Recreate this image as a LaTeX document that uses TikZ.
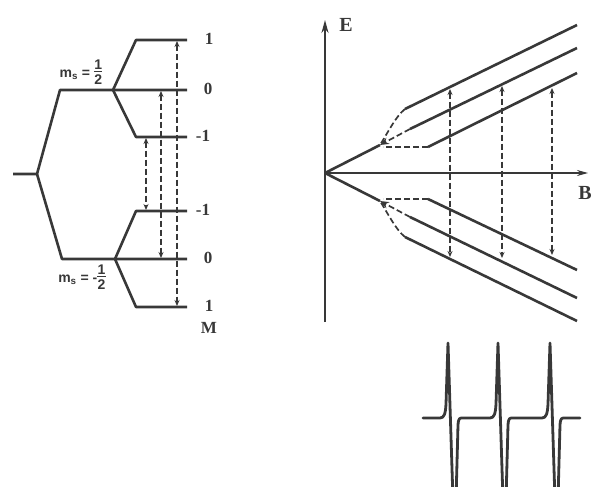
\documentclass[tikz,border=0pt]{standalone}
\usepackage{fontspec}
\setmainfont{Liberation Serif}
\setsansfont{Liberation Sans}
\usetikzlibrary{arrows.meta}
\definecolor{ink}{HTML}{383838}
\newcommand{\myhalf}{\raisebox{-0.45em}{\shortstack{1\\[-1.5pt]\rule{0.6em}{1.1pt}\\[-1pt]2}}}
\tikzset{
  lvl/.style={draw=ink, line width=2.6pt, line join=round},
  dsh/.style={draw=ink, line width=1.7pt, dash pattern=on 6pt off 3pt},
  dbl/.style={dsh, {Stealth[length=6pt,width=5pt]}-{Stealth[length=6pt,width=5pt]}},
  lab/.style={font=\fontsize{17}{19}\selectfont\bfseries, text=ink, inner sep=0pt},
  axlab/.style={font=\fontsize{20}{22}\selectfont\bfseries, text=ink, inner sep=0pt},
  mslab/.style={font=\sffamily\bfseries\fontsize{14}{15}\selectfont, text=ink, inner sep=0pt},
}
\begin{document}
\begin{tikzpicture}[x=1pt,y=-1pt]
\useasboundingbox (0,0) rectangle (592,487);
% ---------------- left level diagram ----------------
\coordinate (s0) at (13,174);
\coordinate (s1) at (37,174);
\coordinate (u0) at (60,90);
\coordinate (u1) at (113,90);
\coordinate (d0) at (62,259);
\coordinate (d1) at (115,259);
\coordinate (a1) at (136,40);  \coordinate (a1e) at (187,40);
\coordinate (a0e) at (187,90);
\coordinate (am) at (136,137); \coordinate (ame) at (187,137);
\coordinate (bm) at (136,211); \coordinate (bme) at (187,211);
\coordinate (b0e) at (187,259);
\coordinate (b1) at (136,307); \coordinate (b1e) at (187,307);
\draw[lvl] (s0) -- (s1) -- (u0) -- (u1) -- (a0e);
\draw[lvl] (s1) -- (d0) -- (d1) -- (b0e);
\draw[lvl] (u1) -- (a1) -- (a1e);
\draw[lvl] (u1) -- (am) -- (ame);
\draw[lvl] (d1) -- (bm) -- (bme);
\draw[lvl] (d1) -- (b1) -- (b1e);
\coordinate (t1) at (177,41);  \coordinate (t1b) at (177,306);
\coordinate (t2) at (161,91);  \coordinate (t2b) at (161,258);
\coordinate (t3) at (146,138); \coordinate (t3b) at (146,210);
\draw[dbl] (t1) -- (t1b);
\draw[dbl] (t2) -- (t2b);
\draw[dbl] (t3) -- (t3b);
\node[lab] (n1) at (209,39) {1};
\node[lab] (n2) at (208,89) {0};
\node[lab] (n3) at (203,136) {-1};
\node[lab] (n4) at (203,210) {-1};
\node[lab] (n5) at (208,258) {0};
\node[lab] (n6) at (209,306) {1};
\node[lab] (nM) at (209,328) {M};
\node[mslab] (msu) at (81,72) {m\textsubscript{s} = \myhalf};
\node[mslab] (msd) at (82,277) {m\textsubscript{s} = -\myhalf};
% ---------------- right Zeeman diagram ----------------
\coordinate (O) at (325,173);
\coordinate (Ybot) at (325,322);
\coordinate (Ytop) at (325,20);
\coordinate (Xend) at (588,173);
\draw[draw=ink, line width=2pt, -{Stealth[length=13pt,width=7pt]}] (Ybot) -- (Ytop);
\draw[draw=ink, line width=1.5pt, -{Stealth[length=11pt,width=6pt]}] (O) -- (Xend);
\node[axlab] (E) at (346,25) {E};
\node[axlab, anchor=east] (B) at (592,193) {B};
% upper
\coordinate (ub) at (380,145);
\coordinate (U1s) at (405,109); \coordinate (U1e) at (577,25);
\coordinate (U2s) at (410,129); \coordinate (U2e) at (577,48);
\coordinate (U3s) at (428,147); \coordinate (U3e) at (577,73);
\draw[lvl] (O) -- (ub);
\draw[dsh] (U1s) .. controls (396,116) and (387,134) .. (ub);
\draw[dsh, -{Stealth[length=9pt,width=7pt]}] (U2s) -- (ub);
\draw[dsh] (U3s) -- (383,147);
\draw[lvl] (U1s) -- (U1e);
\draw[lvl] (U2s) -- (U2e);
\draw[lvl] (U3s) -- (U3e);
% lower
\coordinate (lb) at (380,201);
\coordinate (L1s) at (405,237); \coordinate (L1e) at (577,321);
\coordinate (L2s) at (410,217); \coordinate (L2e) at (577,298);
\coordinate (L3s) at (428,199); \coordinate (L3e) at (577,270);
\draw[lvl] (O) -- (lb);
\draw[dsh] (L1s) .. controls (396,230) and (387,212) .. (lb);
\draw[dsh, -{Stealth[length=9pt,width=7pt]}] (L2s) -- (lb);
\draw[dsh] (L3s) -- (383,199);
\draw[lvl] (L1s) -- (L1e);
\draw[lvl] (L2s) -- (L2e);
\draw[lvl] (L3s) -- (L3e);
% transitions
\coordinate (r1t) at (450,89);  \coordinate (r1b) at (450,257);
\coordinate (r2t) at (502,86);  \coordinate (r2b) at (502,258);
\coordinate (r3t) at (552,88);  \coordinate (r3b) at (552,255);
\draw[dbl] (r1t) -- (r1b);
\draw[dbl] (r2t) -- (r2b);
\draw[dbl] (r3t) -- (r3b);
% ---------------- spectrum ----------------
\coordinate (sp0) at (423,418);
\coordinate (sp1) at (580,418);
\draw[draw=ink, line width=2.8pt, line join=round, line cap=round] (sp0)
  foreach \c in {448,498,550} {
    -- (\c-8,418) .. controls (\c-4,418) and (\c-2.5,414) .. (\c-2,404)
    -- (\c,343) -- (\c+5,500) -- (\c+8,500) -- (\c+10,425)
    .. controls (\c+10.5,418) and (\c+11.5,418) .. (\c+15,418)
  } -- (sp1);
\end{tikzpicture}
\end{document}
